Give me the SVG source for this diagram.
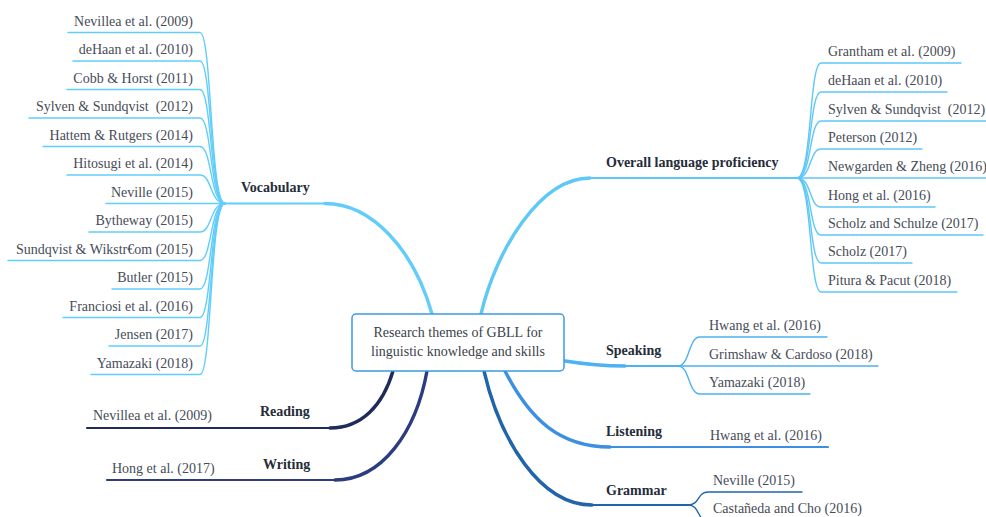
<svg xmlns="http://www.w3.org/2000/svg" width="986" height="517" viewBox="0 0 986 517">
  <style>
    .leaf { font-family: "Liberation Serif", "Times New Roman", serif; font-size: 14px; fill: #464c58; }
    .topic { font-family: "Liberation Serif", "Times New Roman", serif; font-size: 14px; font-weight: bold; fill: #252c3a; }
    .center { font-family: "Liberation Serif", "Times New Roman", serif; font-size: 14px; fill: #3a3f4a; text-anchor: middle; }
    .end { text-anchor: end; }
    .ln { fill: none; stroke-linecap: round; }
    .thin { stroke-width: 1.4; }
    .main { stroke-width: 2.2; }
    .trunk { stroke-width: 3.4; }
    .c-voc { stroke: #62cdfb; }
    .c-ovr { stroke: #5ec8f7; }
    .c-spk { stroke: #4cb2f1; }
    .c-lis { stroke: #3c8fe2; }
    .c-gra { stroke: #2064a9; }
    .c-rea { stroke: #1f2b5c; }
    .c-wri { stroke: #2c3c80; }
  </style>
  <rect width="986" height="517" fill="#ffffff"/>

  <g id="connectors">
    <!-- main branches from the central topic -->
    <path class="ln main c-voc" d="M225,203.5 L325,203.5"/>
    <path class="ln trunk c-voc" d="M325,203.5 C372,203.5 414,250 432,314"/>
    <path class="ln trunk c-ovr" d="M481,314 C496,250 540,178 590,178"/>
    <path class="ln main c-ovr" d="M590,178 L797,178"/>
    <path class="ln trunk c-spk" d="M565,361 C590,365 605,366 625,366"/>
    <path class="ln main c-spk" d="M625,366 L678,366"/>
    <path class="ln trunk c-lis" d="M505,371 C530,420 560,447 610,447"/>
    <path class="ln main c-lis" d="M610,447 L828,447"/>
    <path class="ln trunk c-gra" d="M484,371 C500,440 540,505 592,505"/>
    <path class="ln main c-gra" d="M592,505 L688,505"/>
    <path class="ln trunk c-rea" d="M393,371 C383,405 362,428 330,428"/>
    <path class="ln main c-rea" d="M330,428 L87,428"/>
    <path class="ln trunk c-wri" d="M427,371 C416,432 382,480 335,480"/>
    <path class="ln main c-wri" d="M335,480 L107,480"/>

    <!-- vocabulary leaves -->
    <g class="ln thin c-voc">
      <path d="M225,203.5 C210,203.5 212,32.5 200,32.5 L68,32.5"/>
      <path d="M225,203.5 C210,203.5 212,61 200,61 L73,61"/>
      <path d="M225,203.5 C210,203.5 212,89.5 200,89.5 L67,89.5"/>
      <path d="M225,203.5 C210,203.5 212,118 200,118 L29,118"/>
      <path d="M225,203.5 C210,203.5 212,146.5 200,146.5 L43,146.5"/>
      <path d="M225,203.5 C210,203.5 212,175 200,175 L67,175"/>
      <path d="M225,203.5 L106,203.5"/>
      <path d="M225,203.5 C210,203.5 212,232 200,232 L89,232"/>
      <path d="M225,203.5 C210,203.5 212,260.5 200,260.5 L8,260.5"/>
      <path d="M225,203.5 C210,203.5 212,289 200,289 L112,289"/>
      <path d="M225,203.5 C210,203.5 212,317.5 200,317.5 L63,317.5"/>
      <path d="M225,203.5 C210,203.5 212,346 200,346 L109,346"/>
      <path d="M225,203.5 C210,203.5 212,374.5 200,374.5 L91,374.5"/>
    </g>

    <!-- overall language proficiency leaves -->
    <g class="ln thin c-ovr">
      <path d="M797,178 C812,178 809,63 821,63 L961,63"/>
      <path d="M797,178 C812,178 809,92 821,92 L947,92"/>
      <path d="M797,178 C812,178 809,121 821,121 L990,121"/>
      <path d="M797,178 C812,178 809,149 821,149 L922,149"/>
      <path d="M797,178 L990,178"/>
      <path d="M797,178 C812,178 809,207 821,207 L935,207"/>
      <path d="M797,178 C812,178 809,235 821,235 L983,235"/>
      <path d="M797,178 C812,178 809,263 821,263 L912,263"/>
      <path d="M797,178 C812,178 809,292 821,292 L957,292"/>
    </g>

    <!-- speaking leaves -->
    <g class="ln thin c-spk">
      <path d="M678,366 C690,366 688,337 700,337 L827,337"/>
      <path d="M678,366 L878,366"/>
      <path d="M678,366 C690,366 688,394 700,394 L810,394"/>
    </g>

    <!-- grammar leaves -->
    <g class="ln thin c-gra">
      <path d="M688,505 C700,505 697,492 708,492 L802,492"/>
      <path d="M688,505 C700,505 697,521 708,521 L870,521"/>
    </g>
  </g>

  <g id="central">
    <rect x="352" y="314" width="212" height="57" rx="4" fill="#ffffff" stroke="#3d9be0" stroke-width="1.5"/>
    <text class="center" x="458" y="337">Research themes of GBLL for</text>
    <text class="center" x="458" y="356">linguistic knowledge and skills</text>
  </g>

  <g id="vocabulary">
    <text class="topic" x="241" y="192">Vocabulary</text>
    <text class="leaf end" x="193" y="25.5">Nevillea et al. (2009)</text>
    <text class="leaf end" x="193" y="54">deHaan et al. (2010)</text>
    <text class="leaf end" x="193" y="82.5">Cobb &amp; Horst (2011)</text>
    <text class="leaf end" x="193" y="111" xml:space="preserve">Sylven &amp; Sundqvist  (2012)</text>
    <text class="leaf end" x="193" y="139.5">Hattem &amp; Rutgers (2014)</text>
    <text class="leaf end" x="193" y="168">Hitosugi et al. (2014)</text>
    <text class="leaf end" x="193" y="196.5">Neville (2015)</text>
    <text class="leaf end" x="193" y="225">Bytheway (2015)</text>
    <text class="leaf end" x="193" y="253.5">Sundqvist &amp; Wikstr€om (2015)</text>
    <text class="leaf end" x="193" y="282">Butler (2015)</text>
    <text class="leaf end" x="193" y="310.5">Franciosi et al. (2016)</text>
    <text class="leaf end" x="193" y="339">Jensen (2017)</text>
    <text class="leaf end" x="193" y="367.5">Yamazaki (2018)</text>
  </g>

  <g id="overall-proficiency">
    <text class="topic" x="606" y="167">Overall language proficiency</text>
    <text class="leaf" x="828" y="56">Grantham et al. (2009)</text>
    <text class="leaf" x="828" y="85">deHaan et al. (2010)</text>
    <text class="leaf" x="828" y="114" xml:space="preserve">Sylven &amp; Sundqvist  (2012)</text>
    <text class="leaf" x="828" y="142">Peterson (2012)</text>
    <text class="leaf" x="828" y="171">Newgarden &amp; Zheng (2016)</text>
    <text class="leaf" x="828" y="200">Hong et al. (2016)</text>
    <text class="leaf" x="828" y="228">Scholz and Schulze (2017)</text>
    <text class="leaf" x="828" y="256">Scholz (2017)</text>
    <text class="leaf" x="828" y="285">Pitura &amp; Pacut (2018)</text>
  </g>

  <g id="speaking">
    <text class="topic" x="606" y="355">Speaking</text>
    <text class="leaf" x="709" y="330">Hwang et al. (2016)</text>
    <text class="leaf" x="709" y="359">Grimshaw &amp; Cardoso (2018)</text>
    <text class="leaf" x="709" y="387">Yamazaki (2018)</text>
  </g>

  <g id="listening">
    <text class="topic" x="606" y="436">Listening</text>
    <text class="leaf" x="710" y="440">Hwang et al. (2016)</text>
  </g>

  <g id="grammar">
    <text class="topic" x="606" y="495">Grammar</text>
    <text class="leaf" x="713" y="485">Neville (2015)</text>
    <text class="leaf" x="713" y="513">Castañeda and Cho (2016)</text>
  </g>

  <g id="reading">
    <text class="topic" x="260" y="416">Reading</text>
    <text class="leaf" x="93" y="420">Nevillea et al. (2009)</text>
  </g>

  <g id="writing">
    <text class="topic" x="263" y="469">Writing</text>
    <text class="leaf" x="112" y="473">Hong et al. (2017)</text>
  </g>
</svg>
